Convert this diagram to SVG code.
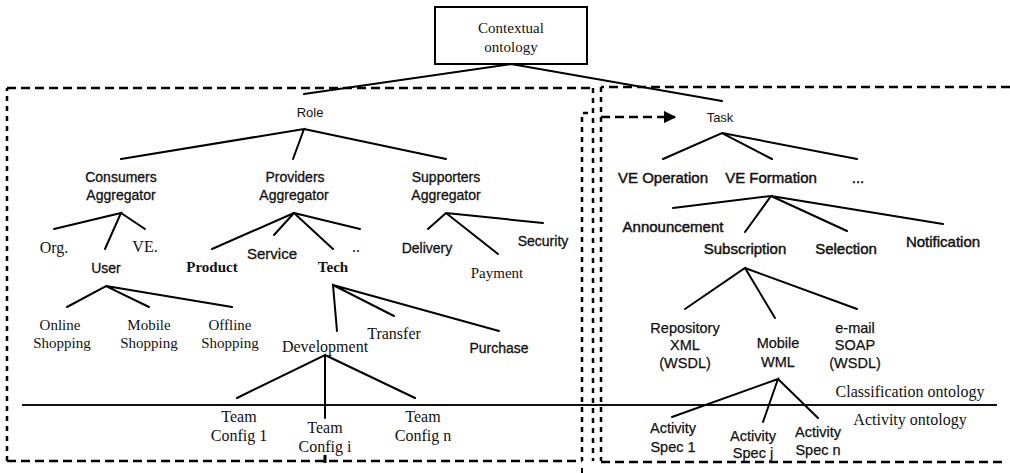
<svg xmlns="http://www.w3.org/2000/svg" width="1010" height="473" viewBox="0 0 1010 473">
  <defs>
    <marker id="arrowHead" viewBox="0 0 10 10" refX="9" refY="5" markerWidth="5" markerHeight="5" markerUnits="strokeWidth" orient="auto">
      <path d="M0,0 L10,5 L0,10 Z" fill="#000"/>
    </marker>
    <style>
      .edge { stroke:#000; stroke-width:2; fill:none; stroke-linecap:round; }
      .box { fill:#fff; stroke:#000; stroke-width:2; }
      .dashH { stroke:#000; stroke-width:2.5; fill:none; stroke-dasharray:9 5; }
      .dashV { stroke:#000; stroke-width:2.5; fill:none; stroke-dasharray:5 5; }
      .sep { stroke:#111; stroke-width:2; }
      text { text-anchor:middle; fill:#111; }
      .ar { font-family:"Liberation Sans", Arial, sans-serif; font-size:13px; }
      .ss { font-family:"Liberation Sans", Arial, sans-serif; font-size:14px; stroke:#111; stroke-width:0.3; }
      .sb { font-family:"Liberation Sans", Arial, sans-serif; font-size:15px; stroke:#111; stroke-width:0.45; }
      .sm { font-family:"Liberation Sans", Arial, sans-serif; font-size:14.5px; stroke:#111; stroke-width:0.25; }
      .sf { font-family:"Liberation Serif", "Times New Roman", serif; font-size:16px; }
      .sfb { font-family:"Liberation Serif", "Times New Roman", serif; font-size:15px; font-weight:bold; }
    </style>
  </defs>

  <!-- group frames -->
  <g id="frames">
    <path class="dashH" d="M7,461 H582"/>
    <path class="dashV" d="M7,461 V88"/>
    <path class="dashH" d="M7,88 H593"/>
    <path class="dashV" d="M593,88 V113 H582 V461"/>
    <path class="dashV" d="M593,118 V461"/>
    <path class="dashH" d="M1010,87 H601"/>
    <path class="dashV" d="M601,87 V461"/>
    <path class="dashH" d="M601,462 H1007" stroke-width="2"/>
    <path d="M325,455 V463" stroke="#000" stroke-width="3"/>
    <path d="M582,468 V473" stroke="#000" stroke-width="2"/>
  </g>

  <!-- classification / activity separator -->
  <line class="sep" x1="22" y1="405" x2="997" y2="405"/>

  <g id="connectors">
    <path class="dashH" d="M601,117 H675" marker-end="url(#arrowHead)"/>
    <path class="edge" d="M304,94 L511,64 L722,101"/>
    <path class="edge" d="M121,159 L304,129 L293,159 M304,129 L446,159"/>
    <path class="edge" d="M54,229 L121,213 L105,249 M121,213 L145,229"/>
    <path class="edge" d="M212,249 L294,213 L274,235 M294,213 L333,249 M294,213 L360,229"/>
    <path class="edge" d="M428,229 L446,213 L498,254 M446,213 L543,223"/>
    <path class="edge" d="M67,307 L106,286 L149,307 M106,286 L232,307"/>
    <path class="edge" d="M337,331 L333,285 L394,316 M333,285 L499,331"/>
    <path class="edge" d="M237,398 L325,355 L325,418 M325,355 L415,398"/>
    <path class="edge" d="M663,159 L722,133 L772,159 M722,133 L857,159"/>
    <path class="edge" d="M673,208 L771,196 L745,232 M771,196 L847,231 M771,196 L943,224"/>
    <path class="edge" d="M685,309 L745,268 L775,318 M745,268 L857,309"/>
    <path class="edge" d="M672,417 L778,379 L763,422 M778,379 L818,418"/>
  </g>

  <g id="contextual-ontology">
    <rect class="box" x="435" y="7" width="152" height="57"/>
    <text class="sf" x="511" y="33" style="font-size:15px">Contextual</text>
    <text class="sf" x="511" y="52" style="font-size:15px">ontology</text>
  </g>

  <g id="role"><text class="ar" x="310" y="117">Role</text></g>
  <g id="consumers"><text class="ss" x="121" y="182">Consumers</text><text class="ss" x="121" y="200">Aggregator</text></g>
  <g id="providers"><text class="ss" x="295" y="182">Providers</text><text class="ss" x="294" y="200">Aggregator</text></g>
  <g id="supporters"><text class="ss" x="446" y="182">Supporters</text><text class="ss" x="446" y="200">Aggregator</text></g>

  <g id="org"><text class="sf" x="54" y="253">Org.</text></g>
  <g id="ve"><text class="sf" x="145" y="252">VE.</text></g>
  <g id="user"><text class="ss" x="106" y="273">User</text></g>
  <g id="product"><text class="sfb" x="212" y="272">Product</text></g>
  <g id="service"><text class="ss" x="272" y="259" style="font-size:15px">Service</text></g>
  <g id="tech"><text class="sfb" x="333" y="272">Tech</text></g>
  <g id="providers-more"><text class="sf" x="356" y="252">..</text></g>
  <g id="delivery"><text class="ss" x="427" y="253">Delivery</text></g>
  <g id="security"><text class="ss" x="543" y="246">Security</text></g>
  <g id="payment"><text class="sf" x="497" y="278" style="font-size:15px">Payment</text></g>

  <g id="online-shopping"><text class="sf" x="60" y="330" style="font-size:15px">Online</text><text class="sf" x="62" y="348" style="font-size:15px">Shopping</text></g>
  <g id="mobile-shopping"><text class="sf" x="149" y="330" style="font-size:15px">Mobile</text><text class="sf" x="149" y="348" style="font-size:15px">Shopping</text></g>
  <g id="offline-shopping"><text class="sf" x="230" y="330" style="font-size:15px">Offline</text><text class="sf" x="230" y="348" style="font-size:15px">Shopping</text></g>
  <g id="transfer"><text class="sf" x="394" y="339">Transfer</text></g>
  <g id="development"><text class="sf" x="325" y="352">Development</text></g>
  <g id="purchase"><text class="ss" x="499" y="353">Purchase</text></g>

  <g id="team-config-1"><text class="sf" x="239" y="422">Team</text><text class="sf" x="239" y="441">Config 1</text></g>
  <g id="team-config-i"><text class="sf" x="325" y="433">Team</text><text class="sf" x="325" y="452">Config i</text></g>
  <g id="team-config-n"><text class="sf" x="423" y="422">Team</text><text class="sf" x="423" y="441">Config n</text></g>

  <g id="task"><text class="ar" x="720" y="122">Task</text></g>
  <g id="ve-operation"><text class="sb" x="663" y="183">VE Operation</text></g>
  <g id="ve-formation"><text class="sb" x="771" y="183">VE Formation</text></g>
  <g id="task-more"><text class="sb" x="858" y="183">...</text></g>
  <g id="announcement"><text class="sb" x="673" y="232">Announcement</text></g>
  <g id="subscription"><text class="sb" x="745" y="254">Subscription</text></g>
  <g id="selection"><text class="sb" x="846" y="254">Selection</text></g>
  <g id="notification"><text class="sb" x="943" y="247">Notification</text></g>

  <g id="repository"><text class="sm" x="685" y="333">Repository</text><text class="sm" x="685" y="350">XML</text><text class="sm" x="685" y="368">(WSDL)</text></g>
  <g id="mobile"><text class="sm" x="778" y="348">Mobile</text><text class="sm" x="778" y="367">WML</text></g>
  <g id="email"><text class="sm" x="855" y="333">e-mail</text><text class="sm" x="855" y="350">SOAP</text><text class="sm" x="855" y="368">(WSDL)</text></g>

  <g id="classification-label"><text class="sf" x="910" y="397">Classification ontology</text></g>
  <g id="activity-label"><text class="sf" x="910" y="425">Activity ontology</text></g>

  <g id="activity-spec-1"><text class="sm" x="673" y="433">Activity</text><text class="sm" x="673" y="452">Spec 1</text></g>
  <g id="activity-spec-j"><text class="sm" x="753" y="441">Activity</text><text class="sm" x="753" y="458">Spec j</text></g>
  <g id="activity-spec-n"><text class="sm" x="818" y="437">Activity</text><text class="sm" x="818" y="455">Spec n</text></g>
</svg>
